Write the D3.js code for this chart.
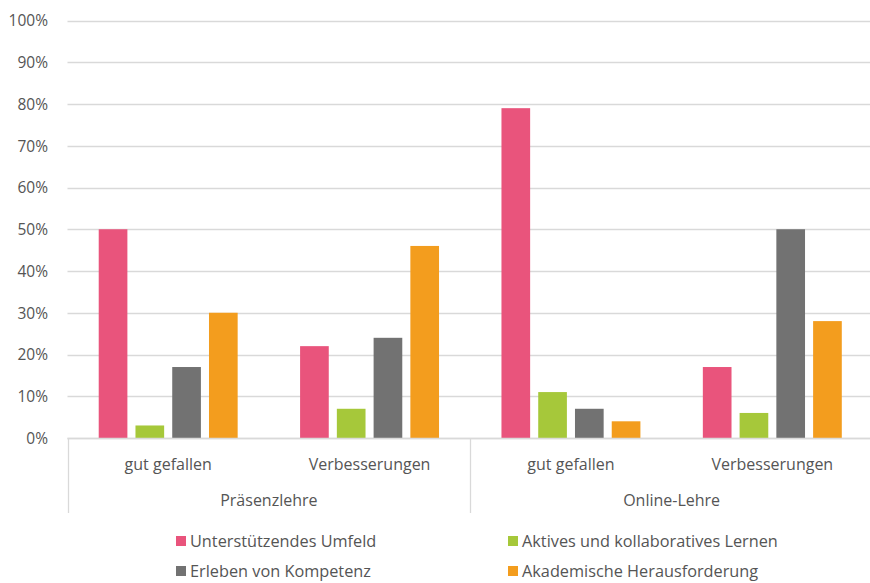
<!DOCTYPE html>
<html><head><meta charset="utf-8">
<script src="https://cdn.jsdelivr.net/npm/d3@7"></script>
<style>body{margin:0;background:#fff}svg{display:block}text{font-family:"Open Sans",Lato,sans-serif;fill:#555555}</style>
</head><body><svg id="c" width="870" height="583"></svg>
<script>
const groups = ["Präsenzlehre", "Online-Lehre"];
const subcats = ["gut gefallen", "Verbesserungen"];
const series = ["Unterstützendes Umfeld", "Aktives und kollaboratives Lernen", "Erleben von Kompetenz", "Akademische Herausforderung"];
const colors = ["#E9547C", "#A6C83A", "#727272", "#F39D1E"];
// values per category (Präsenz gut, Präsenz Verb, Online gut, Online Verb)
const unterstuetzend = [50, 22, 79, 17];
const aktiv = [3, 7, 11, 6];
const kompetenz = [17, 24, 7, 50];
const akademisch = [30, 46, 4, 28];
const yTicks = [0,10,20,30,40,50,60,70,80,90,100];

const values = [unterstuetzend, aktiv, kompetenz, akademisch];
const cats = [];
groups.forEach(g => subcats.forEach(s => cats.push(g + "|" + s)));

const svg = d3.select("#c");
const pLeft = 67.5, pRight = 873, pTop = 20.5, pBottom = 438;
const y = d3.scaleLinear().domain([0,100]).range([pBottom, pTop]);
const x0 = d3.scaleBand().domain(cats).range([pLeft, pRight]).paddingInner(0.31).paddingOuter(0.155);
const x1 = d3.scaleBand().domain(series).range([0, x0.bandwidth()]).paddingInner(0.22);
const gx = d3.scaleBand().domain(groups).range([pLeft, pRight]);

// gridlines
svg.append("g").selectAll("line").data(yTicks).join("line")
  .attr("x1", pLeft).attr("x2", 870).attr("y1", d => Math.round(y(d))+0.5).attr("y2", d => Math.round(y(d))+0.5)
  .attr("stroke", "#d9d9d9").attr("stroke-width", 1.3);

// y labels
const yAxis = d3.axisLeft(y).tickValues(yTicks).tickFormat(d => d + "%").tickSize(0).tickPadding(0);
const ya = svg.append("g").attr("transform", `translate(48,0)`).call(yAxis);
ya.select(".domain").remove();
ya.selectAll("text").style("font-size", "15.5px").attr("fill", "#555555").attr("dy", "0.35em").style("font-family", "'Open Sans', sans-serif");

// bars
series.forEach((s, si) => {
  svg.append("g").selectAll("rect").data(values[si]).join("rect")
    .attr("x", (d, i) => x0(cats[i]) + x1(s))
    .attr("width", x1.bandwidth())
    .attr("y", d => y(d))
    .attr("height", d => y(0) - y(d))
    .attr("fill", colors[si]);
});

// axis lines
svg.append("line").attr("x1", pLeft).attr("x2", 870).attr("y1", pBottom+0.5).attr("y2", pBottom+0.5).attr("stroke", "#d9d9d9").attr("stroke-width", 1.3);
const seps = [pLeft, gx("Online-Lehre"), pRight];
svg.append("g").selectAll("line").data(seps).join("line")
  .attr("x1", d => Math.round(d)+0.5).attr("x2", d => Math.round(d)+0.5)
  .attr("y1", pBottom).attr("y2", 513).attr("stroke", "#d9d9d9").attr("stroke-width", 1.3);

// category labels
svg.append("g").selectAll("text").data(cats).join("text")
  .attr("x", d => x0(d) + x0.bandwidth()/2).attr("y", 470)
  .attr("text-anchor", "middle").style("font-size", "16px")
  .text(d => d.split("|")[1]);
svg.append("g").selectAll("text").data(groups).join("text")
  .attr("x", d => gx(d) + gx.bandwidth()/2).attr("y", 506)
  .attr("text-anchor", "middle").style("font-size", "16px")
  .text(d => d);

// legend
const legPos = [[176, 541], [508, 541], [176, 571], [508, 571]];
series.forEach((s, i) => {
  const [lx, ly] = legPos[i];
  svg.append("rect").attr("x", lx).attr("y", ly - 5).attr("width", 10).attr("height", 10).attr("fill", colors[i]);
  svg.append("text").attr("x", lx + 14).attr("y", ly).attr("dy", "0.35em").style("font-size", "16.3px").text(s);
});
</script></body></html>
